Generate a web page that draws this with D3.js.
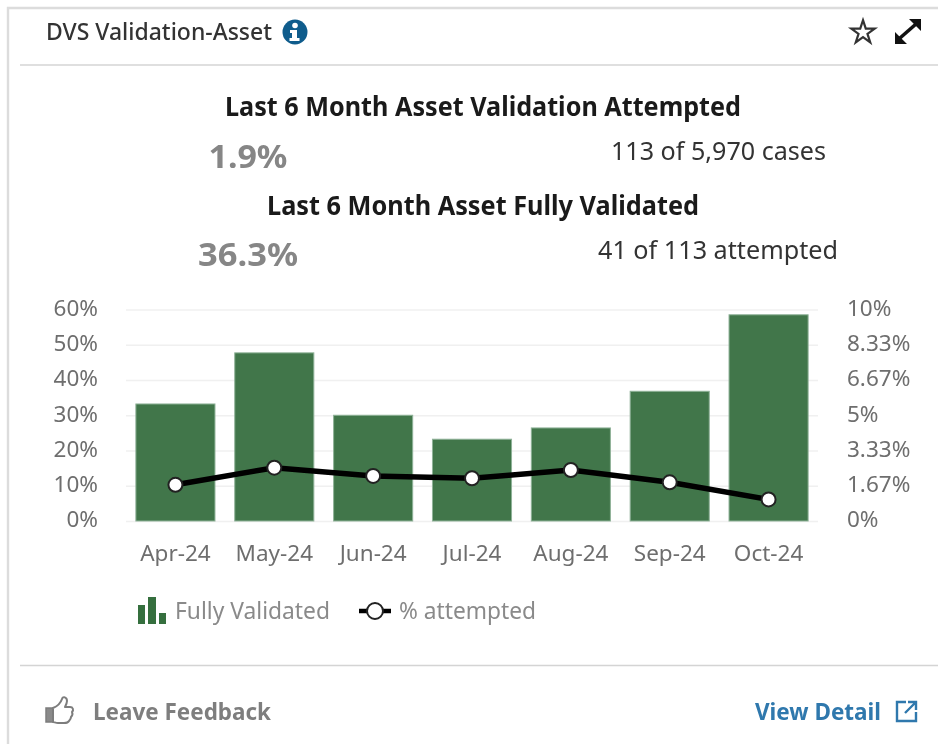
<!DOCTYPE html>
<html lang="en">
<head>
<meta charset="utf-8">
<title>DVS Validation-Asset</title>
<script src="https://cdn.jsdelivr.net/npm/d3@7/dist/d3.min.js"></script>
<style>
  html, body { margin: 0; padding: 0; background: #fff; overflow: hidden; }
  svg { display: block; filter: blur(0.45px); }
  text { font-family: "Noto Sans", sans-serif; }
</style>
</head>
<body>
<svg width="938" height="744"></svg>
<script>
var months = ["Apr-24", "May-24", "Jun-24", "Jul-24", "Aug-24", "Sep-24", "Oct-24"];
var fullyValidated = [33.2, 47.7, 30, 23.2, 26.4, 36.8, 58.5];
var attempted = [1.71, 2.52, 2.13, 2.02, 2.41, 1.83, 1.02];
var leftTicks = [0, 10, 20, 30, 40, 50, 60];
var rightTicks = [0, 1.67, 3.33, 5, 6.67, 8.33, 10];
var rightLabels = ["0%", "1.67%", "3.33%", "5%", "6.67%", "8.33%", "10%"];

var svg = d3.select("svg");

// text helper: fits each string to the width measured on the picture
function label(str, x, y, size, weight, fill, width, anchor) {
  var t = svg.append("text")
    .attr("x", x).attr("y", y)
    .attr("font-size", size).attr("font-weight", weight)
    .attr("fill", fill).attr("text-anchor", anchor || "start")
    .text(str);
  if (width) t.attr("textLength", width).attr("lengthAdjust", "spacingAndGlyphs");
  return t;
}

// axis text is styled the same on all three axes
function styleAxisText(sel) {
  sel.attr("font-size", 22.5).attr("fill", "#6e6e6e")
    .style("font-family", "'Noto Sans', sans-serif");
}

// card frame and separators
svg.append("path").attr("d", "M8 744V8H938").attr("fill", "none").attr("stroke", "#dcdcdc").attr("stroke-width", 2.4);
svg.append("line").attr("x1", 20).attr("x2", 938).attr("y1", 65).attr("y2", 65).attr("stroke", "#d4d4d4").attr("stroke-width", 1.6);
svg.append("line").attr("x1", 20).attr("x2", 938).attr("y1", 665.5).attr("y2", 665.5).attr("stroke", "#d4d4d4").attr("stroke-width", 1.6);

// header
label("DVS Validation-Asset", 46, 40, 24, 500, "#333", 226);
svg.append("circle").attr("cx", 295).attr("cy", 32).attr("r", 12.5).attr("fill", "#0f5c8c");
svg.append("circle").attr("cx", 295).attr("cy", 25.5).attr("r", 2.8).attr("fill", "#fff");
svg.append("path").attr("d", "M290 30h7v8h2.5v3h-10v-3h2.5v-5h-2z").attr("fill", "#fff");
svg.append("path")
  .attr("d", d3.symbol().type(d3.symbolStar).size(170)())
  .attr("transform", "translate(863,32.500)")
  .attr("fill", "#fff").attr("stroke", "#333").attr("stroke-width", 2.2);
svg.append("path").attr("d", "M900 38L916 24").attr("stroke", "#111").attr("stroke-width", 3.6);
svg.append("path").attr("d", "M895 44v-12l12 12zM921 19v12l-12-12z").attr("fill", "#111");

// summary block
label("Last 6 Month Asset Validation Attempted", 483, 116, 26, 700, "#1a1a1a", 516, "middle");
label("1.9%", 248, 168, 32, 700, "#868686", 79, "middle");
label("113 of 5,970 cases", 718.5, 160, 25, 400, "#333", 215, "middle");
label("Last 6 Month Asset Fully Validated", 483, 215, 26, 700, "#1a1a1a", 432, "middle");
label("36.3%", 248, 266, 32, 700, "#868686", 100, "middle");
label("41 of 113 attempted", 718, 259, 25, 400, "#333", 240, "middle");

// scales
var x = d3.scaleBand().domain(months).range([126, 818]).paddingInner(0.2).paddingOuter(0.1);
var yLeft = d3.scaleLinear().domain([0, 60]).range([521, 309.5]);
var yRight = d3.scaleLinear().domain([0, 10]).range([521, 309.5]);

// left axis also draws the gridlines
var axisL = svg.append("g")
  .attr("transform", "translate(126,0)")
  .call(d3.axisRight(yLeft).tickValues(leftTicks).tickSize(692).tickFormat(function (d) { return d + "%"; }));
axisL.select(".domain").remove();
axisL.selectAll("line").attr("stroke", "#f0f0f0").attr("stroke-width", 1.6);
axisL.selectAll("text")
  .attr("x", -28).attr("dy", "0.26em")
  .attr("text-anchor", "end")
  .call(styleAxisText);

var axisR = svg.append("g")
  .attr("transform", "translate(818,0)")
  .call(d3.axisRight(yRight).tickValues(rightTicks).tickSize(0).tickFormat(function (d, i) { return rightLabels[i]; }));
axisR.select(".domain").remove();
axisR.selectAll("text")
  .attr("x", 29).attr("dy", "0.26em")
  .call(styleAxisText);

var axisB = svg.append("g")
  .attr("transform", "translate(0,521)")
  .call(d3.axisBottom(x).tickSize(0));
axisB.select(".domain").remove();
axisB.selectAll("text")
  .attr("y", 33).attr("dy", "0.32em")
  .call(styleAxisText);

// bars
svg.selectAll("rect.bar")
  .data(fullyValidated)
  .enter()
  .append("rect")
    .classed("bar", true)
    .attr("x", function (d, i) { return x(months[i]); })
    .attr("width", x.bandwidth())
    .attr("y", function (d) { return yLeft(d); })
    .attr("height", function (d) { return yLeft(0) - yLeft(d); })
    .attr("fill", "#41764a")
    .attr("stroke", "#8fb298")
    .attr("stroke-width", 1);

// line and points
var line = d3.line()
  .x(function (d, i) { return x(months[i]) + x.bandwidth() / 2; })
  .y(function (d) { return yRight(d); });

svg.append("path")
  .datum(attempted)
  .attr("d", line)
  .attr("fill", "none")
  .attr("stroke", "#000")
  .attr("stroke-width", 5.5);

svg.selectAll("circle.point")
  .data(attempted)
  .enter()
  .append("circle")
    .classed("point", true)
    .attr("cx", function (d, i) { return x(months[i]) + x.bandwidth() / 2; })
    .attr("cy", function (d) { return yRight(d); })
    .attr("r", 7)
    .attr("fill", "#fff")
    .attr("stroke", "#222")
    .attr("stroke-width", 2);

// legend
svg.append("path").attr("d", "M138 605h7v19h-7zM148 597h8v27h-8zM159 613h7v11h-7z").attr("fill", "#356f3e");
label("Fully Validated", 175, 619, 23, 400, "#8a8a8a", 155);
svg.append("line").attr("x1", 359).attr("x2", 391).attr("y1", 611).attr("y2", 611).attr("stroke", "#000").attr("stroke-width", 4.5);
svg.append("circle").attr("cx", 375).attr("cy", 611).attr("r", 8).attr("fill", "#fff").attr("stroke", "#222").attr("stroke-width", 2);
label("% attempted", 399, 619, 23, 400, "#8a8a8a", 137);

// footer
svg.append("path")
  .attr("d", "M46 708h7v14h-7z")
  .attr("fill", "#8a8a8a").attr("stroke", "#7d7d7d").attr("stroke-width", 1.5);
svg.append("path")
  .attr("d", "M53 708c5-2 8-6 9-9 1-3 5-2 5 2 0 2-1 4-2 6h5c3 0 4 3 2 5 1 2 0 4-1 5 0 2-1 3-2 4-1 2-3 2-5 2h-6c-2 0-4-1-5-1z")
  .attr("fill", "#fff").attr("stroke", "#7d7d7d").attr("stroke-width", 2).attr("stroke-linejoin", "round");
label("Leave Feedback", 93, 720, 24, 700, "#7e7e7e", 178);
label("View Detail", 755, 720, 24, 700, "#2f78ad", 126);
svg.append("path").attr("d", "M906 702h-9v19h19v-9M905 713l11-11M908 702h8v8")
  .attr("fill", "none").attr("stroke", "#2f78ad").attr("stroke-width", 2.4);
</script>
</body>
</html>
